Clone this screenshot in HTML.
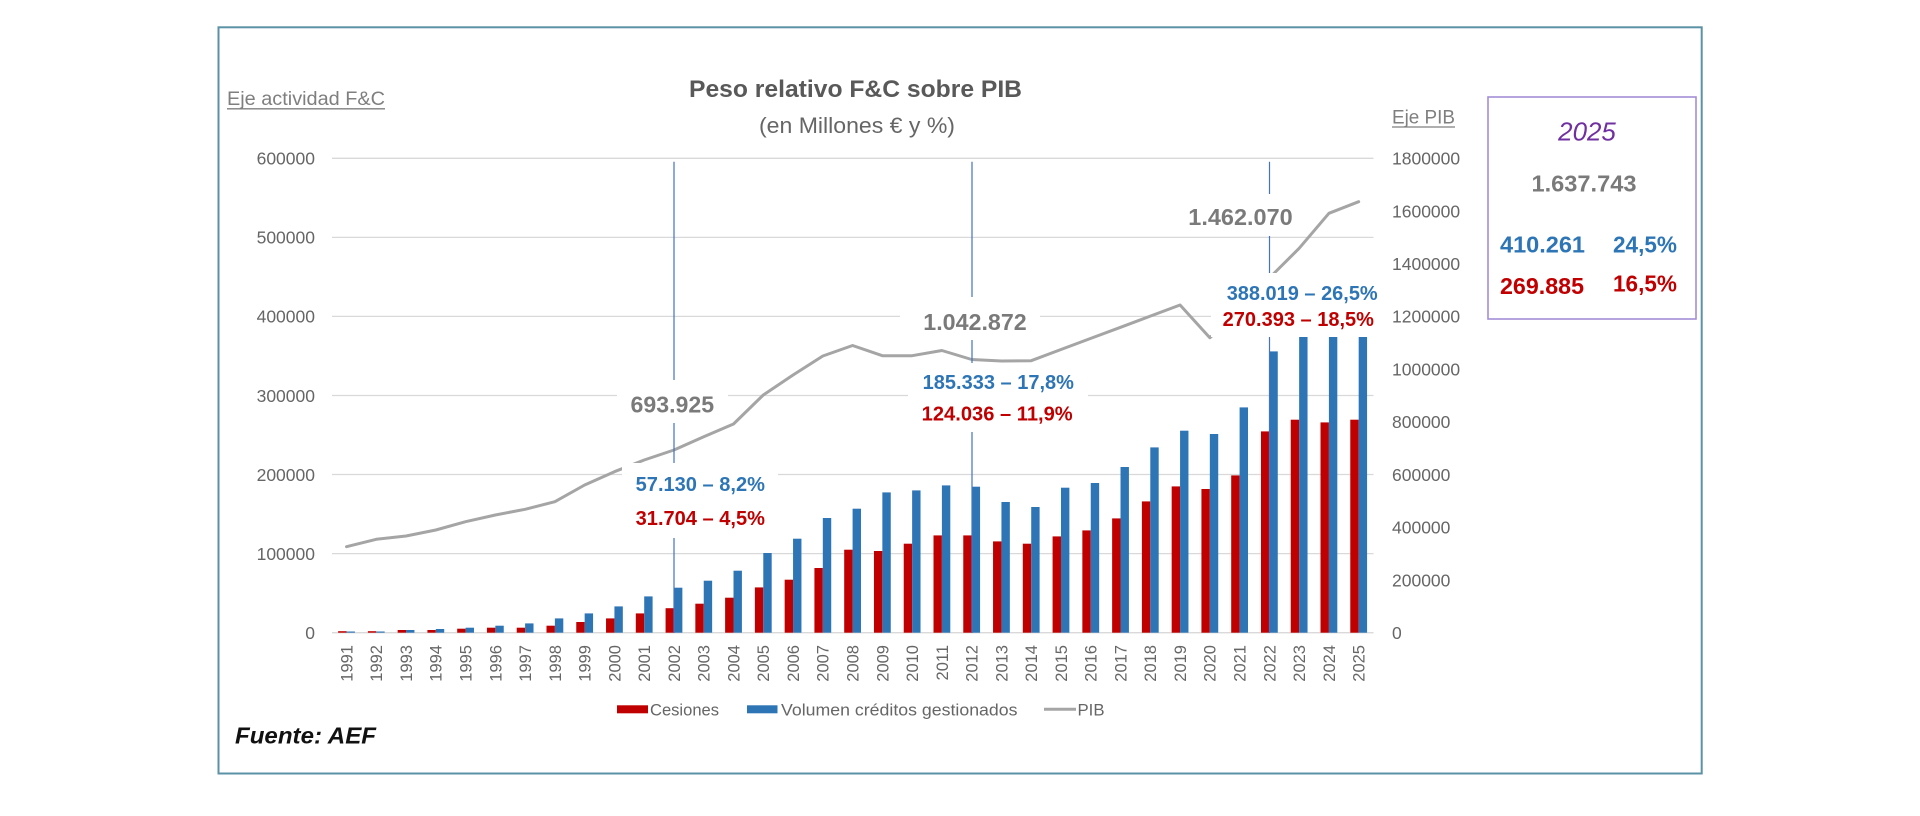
<!DOCTYPE html>
<html>
<head>
<meta charset="utf-8">
<style>
html,body{margin:0;padding:0;background:#fff;}
body{width:1920px;height:816px;overflow:hidden;}
svg{display:block;font-family:"Liberation Sans",sans-serif;}
</style>
</head>
<body>
<svg width="1920" height="816" viewBox="0 0 1920 816" xmlns="http://www.w3.org/2000/svg">
<rect x="0" y="0" width="1920" height="816" fill="#fff"/>

<!-- gridlines -->
<g stroke="#d9d9d9" stroke-width="1.3">
<line x1="332" y1="158.3" x2="1373.5" y2="158.3"/>
<line x1="332" y1="237.4" x2="1373.5" y2="237.4"/>
<line x1="332" y1="316.4" x2="1373.5" y2="316.4"/>
<line x1="332" y1="395.5" x2="1373.5" y2="395.5"/>
<line x1="332" y1="474.5" x2="1373.5" y2="474.5"/>
<line x1="332" y1="553.6" x2="1373.5" y2="553.6"/>
<line x1="332" y1="632.7" x2="1373.5" y2="632.7"/>
</g>

<!-- bars: Cesiones (red) -->
<g fill="#c00000">
<rect x="338.1" y="631.2" width="8.4" height="1.5"/>
<rect x="367.87" y="631.2" width="8.4" height="1.5"/>
<rect x="397.64" y="630.0" width="8.4" height="2.7"/>
<rect x="427.41" y="630.0" width="8.4" height="2.7"/>
<rect x="457.18" y="628.7" width="8.4" height="4"/>
<rect x="486.95" y="627.7" width="8.4" height="5"/>
<rect x="516.72" y="627.7" width="8.4" height="5"/>
<rect x="546.49" y="625.7" width="8.4" height="7"/>
<rect x="576.26" y="622.0" width="8.4" height="10.7"/>
<rect x="606.03" y="618.4" width="8.4" height="14.3"/>
<rect x="635.8" y="613.4" width="8.4" height="19.3"/>
<rect x="665.57" y="608.2" width="8.4" height="24.5"/>
<rect x="695.34" y="603.7" width="8.4" height="29"/>
<rect x="725.11" y="597.7" width="8.4" height="35"/>
<rect x="754.88" y="587.4" width="8.4" height="45.3"/>
<rect x="784.65" y="579.7" width="8.4" height="53"/>
<rect x="814.42" y="568.0" width="8.4" height="64.7"/>
<rect x="844.19" y="549.7" width="8.4" height="83"/>
<rect x="873.96" y="551.0" width="8.4" height="81.7"/>
<rect x="903.73" y="543.7" width="8.4" height="89"/>
<rect x="933.5" y="535.4" width="8.4" height="97.3"/>
<rect x="963.27" y="535.4" width="8.4" height="97.3"/>
<rect x="993.04" y="541.4" width="8.4" height="91.3"/>
<rect x="1022.81" y="543.7" width="8.4" height="89"/>
<rect x="1052.58" y="536.4" width="8.4" height="96.3"/>
<rect x="1082.35" y="530.4" width="8.4" height="102.3"/>
<rect x="1112.12" y="518.4" width="8.4" height="114.3"/>
<rect x="1141.89" y="501.4" width="8.4" height="131.3"/>
<rect x="1171.66" y="486.4" width="8.4" height="146.3"/>
<rect x="1201.43" y="489.0" width="8.4" height="143.7"/>
<rect x="1231.2" y="475.4" width="8.4" height="157.3"/>
<rect x="1260.97" y="431.4" width="8.4" height="201.3"/>
<rect x="1290.74" y="419.7" width="8.4" height="213"/>
<rect x="1320.51" y="422.4" width="8.4" height="210.3"/>
<rect x="1350.28" y="419.7" width="8.4" height="213"/>
</g>

<!-- bars: Volumen (blue) -->
<g fill="#2e75b6">
<rect x="346.5" y="631.5" width="8.4" height="1.2"/>
<rect x="376.27" y="631.5" width="8.4" height="1.2"/>
<rect x="406.04" y="630.0" width="8.4" height="2.7"/>
<rect x="435.81" y="629.0" width="8.4" height="3.7"/>
<rect x="465.58" y="627.7" width="8.4" height="5"/>
<rect x="495.35" y="625.7" width="8.4" height="7"/>
<rect x="525.12" y="623.4" width="8.4" height="9.3"/>
<rect x="554.89" y="618.4" width="8.4" height="14.3"/>
<rect x="584.66" y="613.4" width="8.4" height="19.3"/>
<rect x="614.43" y="606.4" width="8.4" height="26.3"/>
<rect x="644.2" y="596.4" width="8.4" height="36.3"/>
<rect x="673.97" y="587.7" width="8.4" height="45"/>
<rect x="703.74" y="580.7" width="8.4" height="52"/>
<rect x="733.51" y="570.7" width="8.4" height="62"/>
<rect x="763.28" y="553.0" width="8.4" height="79.7"/>
<rect x="793.05" y="538.7" width="8.4" height="94"/>
<rect x="822.82" y="518.0" width="8.4" height="114.7"/>
<rect x="852.59" y="508.7" width="8.4" height="124"/>
<rect x="882.36" y="492.4" width="8.4" height="140.3"/>
<rect x="912.13" y="490.4" width="8.4" height="142.3"/>
<rect x="941.9" y="485.4" width="8.4" height="147.3"/>
<rect x="971.67" y="486.7" width="8.4" height="146"/>
<rect x="1001.44" y="502.0" width="8.4" height="130.7"/>
<rect x="1031.21" y="507.0" width="8.4" height="125.7"/>
<rect x="1060.98" y="487.7" width="8.4" height="145"/>
<rect x="1090.75" y="483.0" width="8.4" height="149.7"/>
<rect x="1120.52" y="467.0" width="8.4" height="165.7"/>
<rect x="1150.29" y="447.4" width="8.4" height="185.3"/>
<rect x="1180.06" y="430.7" width="8.4" height="202"/>
<rect x="1209.83" y="434.0" width="8.4" height="198.7"/>
<rect x="1239.6" y="407.4" width="8.4" height="225.3"/>
<rect x="1269.37" y="351.4" width="8.4" height="281.3"/>
<rect x="1299.14" y="336.7" width="8.4" height="296"/>
<rect x="1328.91" y="336.7" width="8.4" height="296"/>
<rect x="1358.68" y="336.7" width="8.4" height="296"/>
</g>

<!-- PIB line -->
<polyline fill="none" stroke="#a5a5a5" stroke-width="3" stroke-linejoin="round" stroke-linecap="round"
points="346.5,546.7 376.27,539.3 406.04,536 435.81,530 465.58,521.7 495.35,515 525.12,509.3 554.89,501.7 584.66,485 614.43,471.7 644.2,460 673.97,450 703.74,436.7 733.51,424 763.28,395 793.05,375 822.82,356 852.59,345.5 882.36,355.7 912.13,355.7 941.9,350.5 971.67,359.5 1001.44,361 1031.21,360.7 1060.98,349.5 1090.75,338.4 1120.52,327.3 1150.29,316.1 1180.06,305 1209.83,337.7 1239.6,311 1269.37,278 1299.14,248.3 1328.91,213.3 1358.68,201.7"/>

<!-- vertical marker lines -->
<g stroke="#4472c4" stroke-width="1.2">
<line x1="674" y1="161.7" x2="674" y2="633"/>
<line x1="972" y1="161.7" x2="972" y2="633"/>
<line x1="1269.5" y1="161.7" x2="1269.5" y2="633"/>
</g>

<!-- white label boxes -->
<g fill="#fff">
<rect x="617" y="380" width="111" height="43"/>
<rect x="622" y="463" width="156" height="75"/>
<rect x="900" y="297" width="140" height="43"/>
<rect x="908" y="363" width="180" height="69"/>
<rect x="1180" y="194" width="120" height="42"/>
<rect x="1211" y="273" width="169" height="64"/>
</g>

<!-- annotations -->
<g font-weight="bold" text-anchor="middle">
<text x="672.3" y="412.3" font-size="23" fill="#7a7a7a" textLength="83.6" lengthAdjust="spacingAndGlyphs">693.925</text>
<text x="975" y="330" font-size="23" fill="#7a7a7a" textLength="103.4" lengthAdjust="spacingAndGlyphs">1.042.872</text>
<text x="1240.5" y="225" font-size="23" fill="#7a7a7a" textLength="104.4" lengthAdjust="spacingAndGlyphs">1.462.070</text>
<text x="700.3" y="491.2" font-size="20" fill="#2e75b6" textLength="129.3" lengthAdjust="spacingAndGlyphs">57.130 – 8,2%</text>
<text x="700.3" y="525.2" font-size="20" fill="#c00000" textLength="129.3" lengthAdjust="spacingAndGlyphs">31.704 – 4,5%</text>
<text x="998.3" y="388.9" font-size="20" fill="#2e75b6" textLength="151.3" lengthAdjust="spacingAndGlyphs">185.333 – 17,8%</text>
<text x="997.2" y="420.5" font-size="20" fill="#c00000" textLength="151" lengthAdjust="spacingAndGlyphs">124.036 – 11,9%</text>
<text x="1302.2" y="299.9" font-size="20" fill="#2e75b6" textLength="151" lengthAdjust="spacingAndGlyphs">388.019 – 26,5%</text>
<text x="1298.3" y="326.2" font-size="20" fill="#c00000" textLength="151.3" lengthAdjust="spacingAndGlyphs">270.393 – 18,5%</text>
</g>

<!-- left axis labels -->
<g font-size="17.5" fill="#666" text-anchor="end">
<text x="315" y="164.6">600000</text>
<text x="315" y="243.7">500000</text>
<text x="315" y="322.7">400000</text>
<text x="315" y="401.8">300000</text>
<text x="315" y="480.8">200000</text>
<text x="315" y="559.9">100000</text>
<text x="315" y="639">0</text>
</g>

<!-- right axis labels -->
<g font-size="17.5" fill="#666" text-anchor="start">
<text x="1392" y="164.6">1800000</text>
<text x="1392" y="217.3">1600000</text>
<text x="1392" y="270">1400000</text>
<text x="1392" y="322.7">1200000</text>
<text x="1392" y="375.5">1000000</text>
<text x="1392" y="428.2">800000</text>
<text x="1392" y="480.9">600000</text>
<text x="1392" y="533.6">400000</text>
<text x="1392" y="586.3">200000</text>
<text x="1392" y="639">0</text>
</g>

<!-- x axis labels -->
<g font-size="16.5" fill="#666" text-anchor="end">
<text transform="translate(352.4,645) rotate(-90)">1991</text>
<text transform="translate(382.17,645) rotate(-90)">1992</text>
<text transform="translate(411.94,645) rotate(-90)">1993</text>
<text transform="translate(441.71,645) rotate(-90)">1994</text>
<text transform="translate(471.48,645) rotate(-90)">1995</text>
<text transform="translate(501.25,645) rotate(-90)">1996</text>
<text transform="translate(531.02,645) rotate(-90)">1997</text>
<text transform="translate(560.79,645) rotate(-90)">1998</text>
<text transform="translate(590.56,645) rotate(-90)">1999</text>
<text transform="translate(620.33,645) rotate(-90)">2000</text>
<text transform="translate(650.1,645) rotate(-90)">2001</text>
<text transform="translate(679.87,645) rotate(-90)">2002</text>
<text transform="translate(709.64,645) rotate(-90)">2003</text>
<text transform="translate(739.41,645) rotate(-90)">2004</text>
<text transform="translate(769.18,645) rotate(-90)">2005</text>
<text transform="translate(798.95,645) rotate(-90)">2006</text>
<text transform="translate(828.72,645) rotate(-90)">2007</text>
<text transform="translate(858.49,645) rotate(-90)">2008</text>
<text transform="translate(888.26,645) rotate(-90)">2009</text>
<text transform="translate(918.03,645) rotate(-90)">2010</text>
<text transform="translate(947.8,645) rotate(-90)">2011</text>
<text transform="translate(977.57,645) rotate(-90)">2012</text>
<text transform="translate(1007.34,645) rotate(-90)">2013</text>
<text transform="translate(1037.11,645) rotate(-90)">2014</text>
<text transform="translate(1066.88,645) rotate(-90)">2015</text>
<text transform="translate(1096.65,645) rotate(-90)">2016</text>
<text transform="translate(1126.42,645) rotate(-90)">2017</text>
<text transform="translate(1156.19,645) rotate(-90)">2018</text>
<text transform="translate(1185.96,645) rotate(-90)">2019</text>
<text transform="translate(1215.73,645) rotate(-90)">2020</text>
<text transform="translate(1245.5,645) rotate(-90)">2021</text>
<text transform="translate(1275.27,645) rotate(-90)">2022</text>
<text transform="translate(1305.04,645) rotate(-90)">2023</text>
<text transform="translate(1334.81,645) rotate(-90)">2024</text>
<text transform="translate(1364.58,645) rotate(-90)">2025</text>
</g>

<!-- titles -->
<text x="855.5" y="97" font-size="24.5" font-weight="bold" fill="#595959" text-anchor="middle" textLength="333" lengthAdjust="spacingAndGlyphs">Peso relativo F&amp;C sobre PIB</text>
<text x="857" y="133" font-size="22.5" fill="#666" text-anchor="middle" textLength="196" lengthAdjust="spacingAndGlyphs">(en Millones € y %)</text>

<text x="227" y="105" font-size="19" fill="#7f7f7f" textLength="158" lengthAdjust="spacingAndGlyphs">Eje actividad F&amp;C</text>
<line x1="227" y1="108.8" x2="385" y2="108.8" stroke="#7f7f7f" stroke-width="1.3"/>
<text x="1392" y="123.5" font-size="19" fill="#7f7f7f" textLength="63" lengthAdjust="spacingAndGlyphs">Eje PIB</text>
<line x1="1392" y1="127" x2="1455" y2="127" stroke="#7f7f7f" stroke-width="1.3"/>

<!-- legend -->
<rect x="617" y="705.3" width="31" height="8" fill="#c00000"/>
<text x="650" y="715.5" font-size="17" fill="#666" textLength="69" lengthAdjust="spacingAndGlyphs">Cesiones</text>
<rect x="747" y="705.3" width="30.5" height="8" fill="#2e75b6"/>
<text x="781" y="715.5" font-size="17" fill="#666" textLength="236.5" lengthAdjust="spacingAndGlyphs">Volumen créditos gestionados</text>
<line x1="1044" y1="709.3" x2="1076" y2="709.3" stroke="#a5a5a5" stroke-width="3"/>
<text x="1077.5" y="715.5" font-size="17" fill="#666" textLength="27" lengthAdjust="spacingAndGlyphs">PIB</text>

<!-- source -->
<text x="235" y="743.5" font-size="23.5" font-weight="bold" font-style="italic" fill="#111" textLength="141" lengthAdjust="spacingAndGlyphs">Fuente: AEF</text>

<!-- summary box -->
<rect x="1488" y="97" width="208" height="222" fill="none" stroke="#a38ed6" stroke-width="1.6"/>
<text x="1587" y="140.3" font-size="26" font-style="italic" fill="#7030a0" text-anchor="middle" textLength="57.7" lengthAdjust="spacingAndGlyphs">2025</text>
<text x="1584" y="191.3" font-size="23" font-weight="bold" fill="#7a7a7a" text-anchor="middle" textLength="105" lengthAdjust="spacingAndGlyphs">1.637.743</text>
<text x="1500" y="252.3" font-size="23" font-weight="bold" fill="#2e75b6" textLength="85" lengthAdjust="spacingAndGlyphs">410.261</text>
<text x="1613" y="252.3" font-size="23" font-weight="bold" fill="#2e75b6" textLength="64" lengthAdjust="spacingAndGlyphs">24,5%</text>
<text x="1500" y="294" font-size="23" font-weight="bold" fill="#c00000" textLength="84" lengthAdjust="spacingAndGlyphs">269.885</text>
<text x="1613" y="291.3" font-size="23" font-weight="bold" fill="#c00000" textLength="64" lengthAdjust="spacingAndGlyphs">16,5%</text>

<!-- outer frame -->
<rect x="218.5" y="27.3" width="1483.2" height="746.2" fill="none" stroke="#5b92a6" stroke-width="2"/>
</svg>
</body>
</html>
